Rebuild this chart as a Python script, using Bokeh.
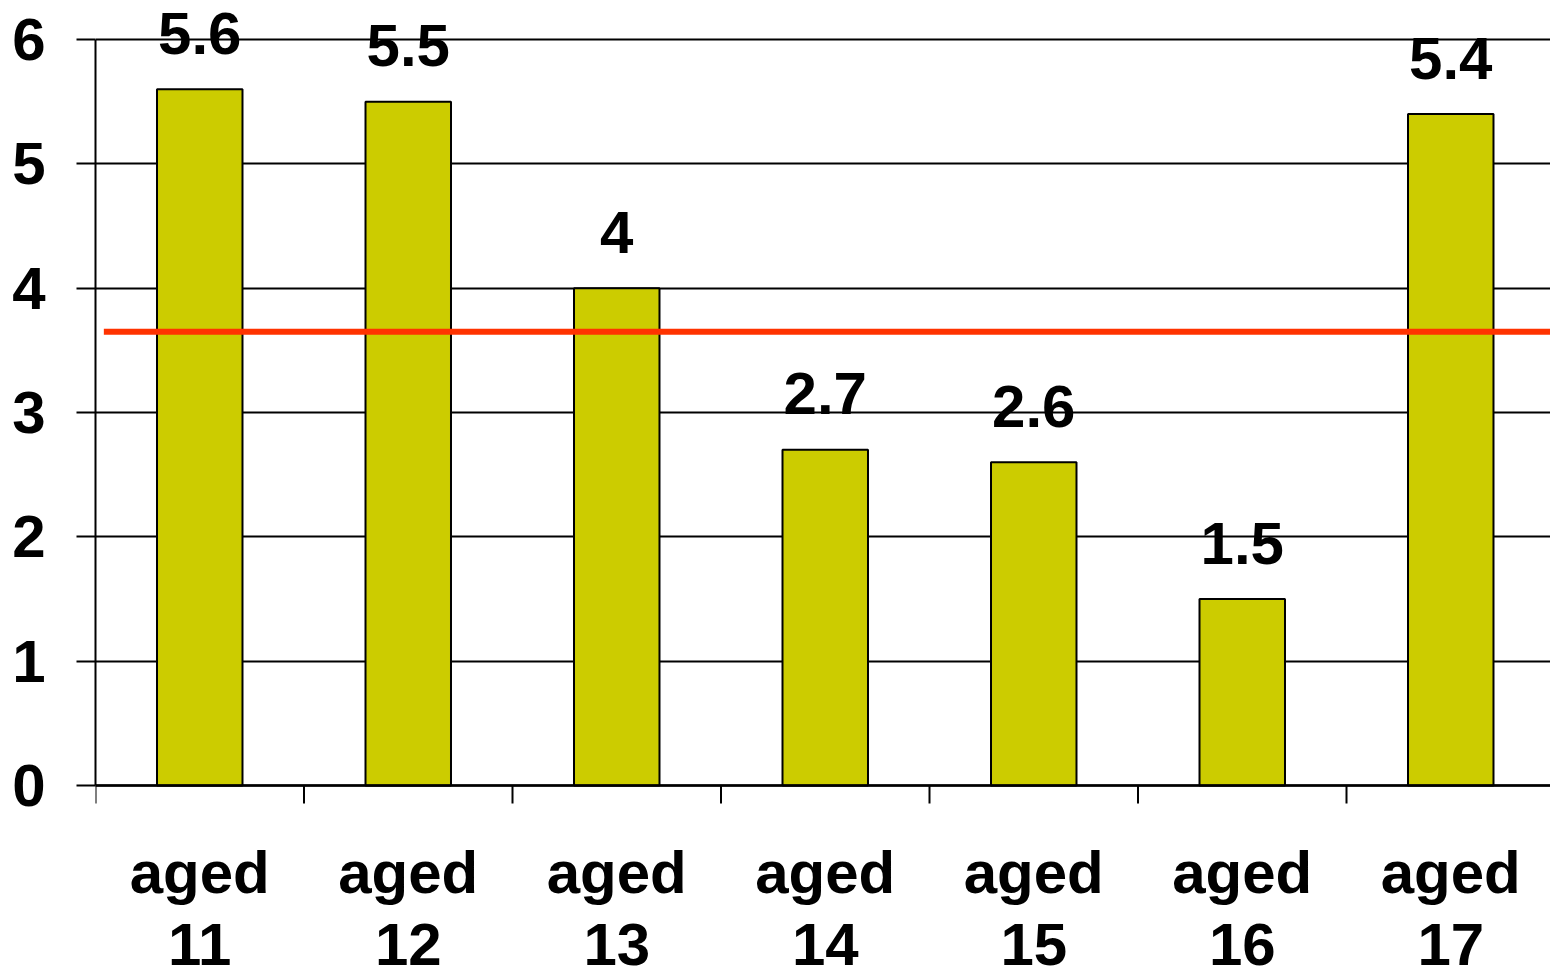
from bokeh.plotting import figure
from bokeh.models import Range1d, FixedTicker, ColumnDataSource
from bokeh.core.properties import value
from bokeh.embed import file_html
from bokeh.resources import INLINE

# ---- data ----
ages = ["11", "12", "13", "14", "15", "16", "17"]
values = [5.6, 5.5, 4, 2.7, 2.6, 1.5, 5.4]
reference_value = 3.65
reference_x = [0.04, 7.0]
y_ticks = [0, 1, 2, 3, 4, 5, 6]

prefix = ["aged"] * len(ages)
centers = [i + 0.5 for i in range(len(ages))]
boundaries = list(range(len(ages) + 1))
labels = [f"{v:g}" for v in values]

FONT = value("Liberation Sans")
W, H = 1550, 970
LEFT = 95
PX_PER_UNIT = 746 / 6.0      # pixels per y unit
PX_PER_CAT = 208.5           # pixels per category
TOP_PAD = 39                 # pixels above the 6 line
ZERO_Y = 785                 # pixel row of zero

y_end = 6 + TOP_PAD / PX_PER_UNIT
y_start = -(H - ZERO_Y) / PX_PER_UNIT
x_end = (W - LEFT) / PX_PER_CAT
tick_len = 18 / PX_PER_UNIT

p = figure(width=W, height=H, output_backend="svg", toolbar_location=None,
           x_range=Range1d(0, x_end), y_range=Range1d(y_start, y_end),
           min_border_left=LEFT, min_border_top=0, min_border_right=0, min_border_bottom=0,
           x_axis_type=None)
p.outline_line_color = None
p.background_fill_color = "white"
p.border_fill_color = "white"

src = ColumnDataSource(dict(x=centers, top=values, label=labels, pre=prefix, age=ages,
                            zero=[0] * len(ages)))
p.vbar(x="x", top="top", width=0.41, bottom=0, source=src,
       fill_color="#CCCC00", line_color="black", line_width=2)

# zero line (category axis)
p.line([0, x_end], [0, 0], line_color="black", line_width=2.5)
# category boundary ticks
p.segment(x0=boundaries, y0=[0] * len(boundaries), x1=boundaries,
          y1=[-tick_len] * len(boundaries), line_color="black", line_width=2)

p.line(reference_x, [reference_value, reference_value], line_color="#FF3300", line_width=6)

p.text(x="x", y="top", text="label", source=src, text_align="center",
       text_baseline="alphabetic", y_offset=-56, text_font=FONT,
       text_font_style="bold", text_font_size="60px", text_color="black")

p.text(x="x", y="zero", text="pre", source=src, text_align="center",
       text_baseline="alphabetic", y_offset=87, text_font=FONT,
       text_font_style="bold", text_font_size="60px", text_color="black")
p.text(x="x", y="zero", text="age", source=src, text_align="center",
       text_baseline="alphabetic", y_offset=159, text_font=FONT,
       text_font_style="bold", text_font_size="60px", text_color="black")

# y axis
ya = p.yaxis[0]
ya.ticker = FixedTicker(ticks=y_ticks)
ya.bounds = (0, 6)
ya.minor_tick_line_color = None
ya.major_tick_out = 19
ya.major_tick_in = 0
ya.major_tick_line_color = "black"
ya.major_tick_line_width = 2
ya.axis_line_color = "black"
ya.axis_line_width = 2
ya.major_label_standoff = 31
ya.major_label_text_font = "Liberation Sans"
ya.major_label_text_font_style = "bold"
ya.major_label_text_font_size = "60px"
ya.major_label_text_color = "black"

p.xgrid.visible = False
p.ygrid.ticker = FixedTicker(ticks=y_ticks)
p.ygrid.grid_line_color = "black"
p.ygrid.grid_line_width = 2

open("out.html", "w").write(file_html(p, INLINE))
